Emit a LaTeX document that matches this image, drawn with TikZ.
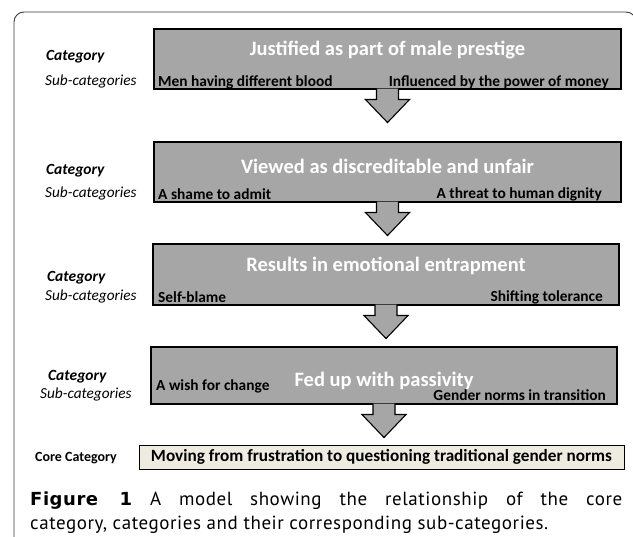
\documentclass[tikz,border=0pt]{standalone}
\usepackage{fontspec}
\setmainfont{Carlito}
\newfontfamily\capfont[LetterSpace=3]{PT Sans}
\newfontfamily\figfont[LetterSpace=3]{DejaVu Sans}
\usetikzlibrary{positioning}
\definecolor{boxgray}{HTML}{A6A6A6}
\definecolor{corefill}{HTML}{EEECE1}
\definecolor{framegray}{HTML}{3A3A3A}

\begin{document}
\begin{tikzpicture}[x=1pt,y=-1pt]
\tikzstyle{catbox} = [draw=black, line width=1.1pt, fill=boxgray, inner sep=0pt]
\tikzstyle{cattitle} = [text=white, font=\fontsize{20.5}{22}\selectfont\bfseries, inner sep=0pt]
\tikzstyle{sublab} = [font=\fontsize{15.4}{17}\selectfont\bfseries, inner sep=0pt]
\tikzstyle{catlab} = [font=\fontsize{15.5}{17}\selectfont\bfseries\itshape, inner sep=0pt, anchor=west]
\tikzstyle{subcatlab} = [font=\fontsize{15.3}{17}\selectfont\itshape, inner sep=0pt, anchor=west]
\tikzstyle{downarrow} = [draw=black, line width=1.1pt, fill=boxgray, line join=miter]
\useasboundingbox (0,0) rectangle (633,537);

% outer frame, open at the bottom
\draw[framegray, line width=0.9pt, rounded corners=10pt] (14,560) -- (14,12) -- (636,12) -- (636,40);

% category boxes
\node[catbox, minimum width=467pt, minimum height=60pt] (b1) at (387.5,59) {};
\node[catbox, minimum width=467pt, minimum height=60pt] (b2) at (387.5,172) {};
\node[catbox, minimum width=466pt, minimum height=61pt] (b3) at (386,274.5) {};
\node[catbox, minimum width=466pt, minimum height=57pt] (b4) at (384,375.5) {};
\node[draw=black, line width=0.8pt, fill=corefill, minimum width=485pt, minimum height=24pt, inner sep=0pt] (core) at (381.5,457) {};

% arrows between the boxes
\foreach \b/\n in {b1/b2, b2/b3, b3/b4, b4/core}
  \filldraw[downarrow] (\b.south) ++(-11,-1) -- ++(0,11) -- ++(-11,0) -- ++(22,23) -- ++(22,-23) -- ++(-11,0) -- ++(0,-11);

% titles
\node[cattitle] (t1) at (387.5,50) {Justified as part of male prestige};
\node[cattitle] (t2) at (387.5,166) {Viewed as discreditable and unfair};
\node[cattitle] (t3) at (386,266) {Results in emotional entrapment};
\node[cattitle] (t4) at (384,381) {Fed up with passivity};

% sub-categories inside the boxes
\node[sublab, anchor=west] (s1a) at (158,82) {Men having different blood};
\node[sublab, anchor=east] (s1b) at (609,82) {Influenced by the power of money};
\node[sublab, anchor=west] (s2a) at (158,194) {A shame to admit};
\node[sublab, anchor=east] (s2b) at (602,194) {A threat to human dignity};
\node[sublab, anchor=west] (s3a) at (158,297) {Self-blame};
\node[sublab, anchor=east] (s3b) at (603,297) {Shifting tolerance};
\node[sublab, anchor=west] (s4a) at (156,386) {A wish for change};
\node[sublab, anchor=east] (s4b) at (606,395) {Gender norms in transition};

% labels on the left
\node[catlab] (c1) at (46,57) {Category};
\node[subcatlab] (sc1) at (45,82) {Sub-categories};
\node[catlab] (c2) at (46,171) {Category};
\node[subcatlab] (sc2) at (45,194) {Sub-categories};
\node[catlab] (c3) at (47,278) {Category};
\node[subcatlab] (sc3) at (45,297) {Sub-categories};
\node[catlab] (c4) at (48,377) {Category};
\node[subcatlab] (sc4) at (40,395) {Sub-categories};

% core category
\node[font=\fontsize{14}{16}\selectfont\bfseries, inner sep=0pt, anchor=west] (cc) at (35,458) {Core Category};
\node[font=\fontsize{17.2}{19}\selectfont\bfseries, inner sep=0pt] (cctext) at (core) {Moving from frustration to questioning traditional gender norms};

% caption
\node[anchor=north west, inner sep=0pt, text width=592pt, align=justify,
      font=\capfont\fontsize{19}{24}\selectfont] (cap) at (30,492)
  {{\figfont\bfseries\fontsize{18}{24}\selectfont Figure 1} A model showing the relationship of the core\linebreak
   category, categories and their corresponding sub-categories.};
\end{tikzpicture}
\end{document}
